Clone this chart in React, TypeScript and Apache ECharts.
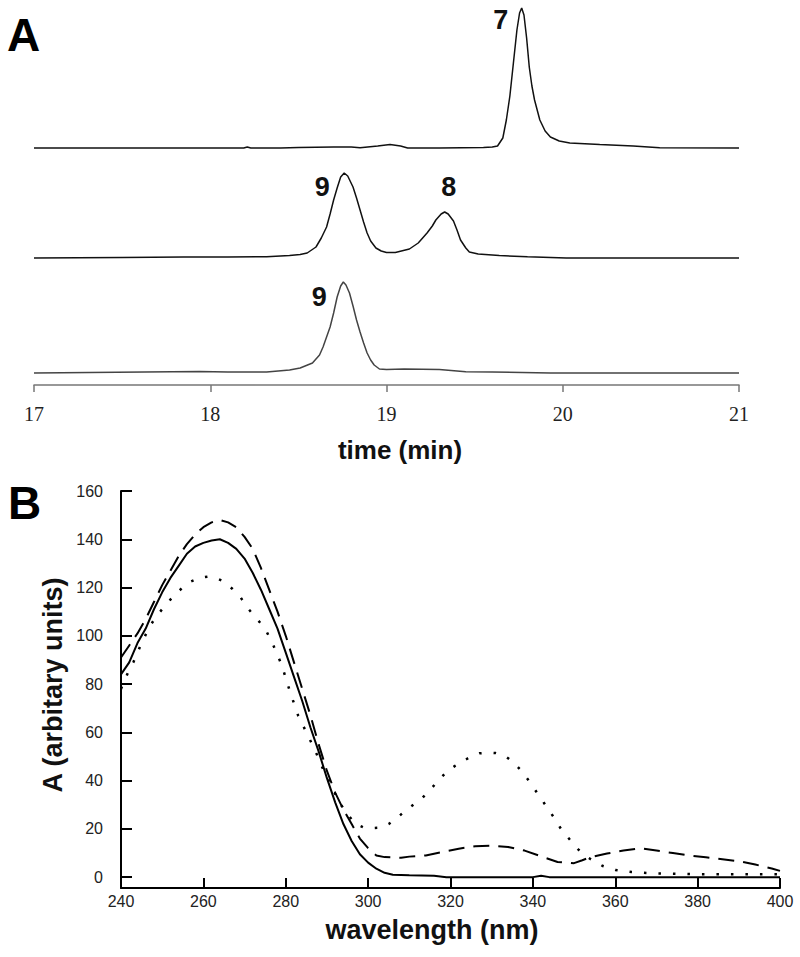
import React, { useEffect, useRef } from "react";
import * as echarts from "echarts";

// ---------- Panel A: chromatograms (time in min, relative signal) ----------
const timeTicks = [17, 18, 19, 20, 21];
const traceTop: number[][] = [
  [17.0, 0], [17.5, 0], [18.0, 0], [18.19, 0], [18.21, 1], [18.23, 0], [18.4, 0], [18.5, 0.5],
  [18.7, 1], [18.8, 1], [18.85, 0.3], [18.95, 2], [19.02, 3.5], [19.08, 2], [19.12, 0], [19.3, 0],
  [19.55, 0.5], [19.6, 1], [19.63, 2], [19.66, 10], [19.68, 28], [19.7, 52], [19.72, 85], [19.74, 118],
  [19.755, 135], [19.767, 140], [19.78, 133], [19.795, 110], [19.81, 81], [19.825, 62], [19.84, 48],
  [19.87, 28], [19.9, 17], [19.93, 11], [19.98, 7], [20.04, 5], [20.21, 3.5], [20.4, 2], [20.55, 0.3], [21.0, 0],
];
const traceMid: number[][] = [
  [17.0, 0], [17.5, 0.5], [17.85, 1], [18.1, 1], [18.32, 1.2], [18.45, 2.5], [18.51, 3.5], [18.55, 5],
  [18.6, 11], [18.63, 20], [18.66, 31], [18.68, 44], [18.7, 58], [18.72, 70], [18.74, 81], [18.76, 85],
  [18.78, 82], [18.81, 71], [18.83, 60], [18.85, 48], [18.87, 36], [18.89, 25], [18.91, 17], [18.94, 10],
  [18.97, 7], [19.0, 5.5], [19.05, 5.5], [19.13, 9], [19.18, 15], [19.23, 25], [19.26, 32], [19.28, 38],
  [19.31, 44], [19.33, 46], [19.35, 44], [19.38, 37], [19.4, 28], [19.42, 18], [19.45, 10], [19.47, 6],
  [19.52, 4], [19.64, 2.5], [19.8, 1.2], [20.02, 0], [21.0, 0],
];
const traceBottom: number[][] = [
  [17.0, 0], [17.47, 0.7], [17.94, 1.5], [18.1, 1], [18.32, 1], [18.45, 3], [18.51, 5], [18.58, 10],
  [18.62, 18], [18.64, 26], [18.68, 46], [18.7, 60], [18.72, 76], [18.74, 87], [18.755, 91], [18.77, 88],
  [18.79, 80], [18.81, 67], [18.83, 53], [18.85, 41], [18.87, 30], [18.89, 20], [18.91, 13], [18.93, 8],
  [18.96, 4], [19.0, 3.5], [19.1, 4], [19.3, 3.5], [19.45, 1.3], [19.6, 1], [19.93, 0], [21.0, 0],
];
const traceOffsets = [237, 127, 12];
const peakLabels = ["7", "9", "8", "9"];
const peakTimes = [19.767, 18.76, 19.33, 18.755];

// ---------- Panel B: UV spectra (wavelength nm, absorbance) ----------
const wlTicks = [240, 260, 280, 300, 320, 340, 360, 380, 400];
const absTicks = [0, 20, 40, 60, 80, 100, 120, 140, 160];
const spectrumSolid: number[][] = [
  [240, 84], [242, 89], [244, 97], [246, 103], [248, 111], [250, 118], [252, 124], [254, 129], [256, 134],
  [258, 137], [260, 138.5], [262, 139.5], [264, 140], [266, 138.5], [268, 136], [270, 132], [272, 126],
  [274, 119], [276, 111], [278, 103], [280, 93], [282, 83], [284, 73], [286, 62], [288, 52], [290, 41],
  [292, 31], [294, 22], [296, 15], [298, 9.5], [300, 6], [302, 3.5], [304, 1.8], [306, 1], [310, 0.8],
  [316, 0.6], [319, 0], [340, 0], [342, 0.6], [344, 0], [360, 0], [400, 0],
];
const spectrumDashed: number[][] = [
  [240, 91], [242, 96], [244, 101], [246, 107], [248, 114], [250, 121], [252, 127], [254, 133], [256, 138],
  [258, 142], [260, 145], [262, 147], [264, 148], [266, 147], [268, 145], [270, 141], [272, 136], [274, 128],
  [276, 119], [278, 110], [280, 100], [282, 89], [284, 78], [286, 67], [288, 55], [290, 44], [292, 35],
  [294, 28], [296, 22], [298, 16], [300, 12], [302, 9], [304, 8.3], [308, 8], [310, 8.5], [314, 9],
  [318, 10.4], [322, 11.8], [326, 12.8], [330, 13], [334, 12.5], [338, 11], [342, 8.6], [346, 6.3],
  [350, 5.8], [352, 7], [354, 8.3], [358, 9.8], [362, 11], [366, 12], [370, 11], [374, 10], [378, 9],
  [382, 8.2], [386, 7.4], [390, 6.6], [394, 5.2], [398, 3.6], [400, 2.6],
];
const spectrumDotted: number[][] = [
  [240, 78], [241.5, 84], [243, 89], [245, 97], [247, 104], [249, 109], [251, 113], [253, 117], [255, 120],
  [257, 122.5], [259, 124], [261, 124.5], [263, 124], [265, 122.5], [267, 119.5], [269, 116], [271, 111],
  [273, 107], [275, 103], [277, 96], [279, 88], [281, 77], [283, 67], [285, 60], [287, 53], [289, 45],
  [291, 38], [293, 31], [295, 26], [297, 22], [299, 20.5], [301, 20.3], [303, 20.5], [305, 22], [307, 24.5],
  [309, 27.5], [311, 30], [313, 32.5], [315, 36], [317, 40], [319, 43.5], [321, 46], [323, 48], [325, 50],
  [327, 51.3], [329, 51.6], [331, 51.4], [333, 50.5], [335, 48], [337, 44.5], [339, 40], [341, 35],
  [343, 30], [345, 25], [347, 19.5], [349, 15.5], [351, 11.5], [353, 8.5], [355, 6.5], [357, 4.6],
  [360, 3], [364, 2.1], [370, 1.5], [380, 1.2], [400, 1.2],
];

const SANS = "Liberation Sans, Arial, Helvetica, sans-serif";
const SERIF = "Liberation Serif, Times New Roman, serif";

function shift(trace: number[][], off: number) {
  return trace.map(([t, a]) => [t, a + off]);
}
function peakAmp(trace: number[][], t: number) {
  const p = trace.find((d) => d[0] === t);
  return p ? p[1] : 0;
}

export default function App() {
  const ref = useRef<HTMLDivElement>(null);
  useEffect(() => {
    document.body.style.margin = "0";
    if (!ref.current) return;
    const chart = echarts.init(ref.current, undefined, { renderer: "svg" });
    const traces = [traceTop, traceMid, traceBottom];
    const traceColors = ["#111", "#111", "#444"];
    const labelOffsets = [[-21, 12], [-22, 14], [4, -25], [-24, 15]];
    const labelTrace = [0, 1, 1, 2];
    const labelStyle = { fontFamily: SANS, fontWeight: "bold" as const, fontSize: 27, color: "#111" };
    const titleStyle = { fontFamily: SANS, fontWeight: "bold", fill: "#111", align: "center", verticalAlign: "middle" };

    const seriesA = traces.map((tr, i) => {
      const marks = peakLabels
        .map((lab, k) => ({ lab, k }))
        .filter(({ k }) => labelTrace[k] === i)
        .map(({ lab, k }) => ({
          coord: [peakTimes[k], peakAmp(tr, peakTimes[k]) + traceOffsets[i]],
          label: { show: true, formatter: lab, offset: labelOffsets[k], ...labelStyle },
        }));
      return {
        type: "line",
        xAxisIndex: 0,
        yAxisIndex: 0,
        data: shift(tr, traceOffsets[i]),
        showSymbol: false,
        lineStyle: { color: traceColors[i], width: 1.5 },
        markPoint: { symbol: "circle", symbolSize: 0, silent: true, data: marks },
      };
    });

    const option: any = {
      animation: false,
      backgroundColor: "#fff",
      grid: [
        { left: 34, width: 705, top: 5, height: 380 },
        { left: 121, width: 659, top: 491, height: 397 },
      ],
      xAxis: [
        {
          type: "value", gridIndex: 0, min: timeTicks[0], max: timeTicks[timeTicks.length - 1], interval: 1,
          axisLine: { onZero: false, lineStyle: { color: "#777", width: 1.5 } },
          axisTick: { length: 7, lineStyle: { color: "#777", width: 1.5 } },
          axisLabel: { fontFamily: SERIF, fontSize: 20, color: "#222", margin: 19 },
          splitLine: { show: false },
        },
        {
          type: "value", gridIndex: 1, min: wlTicks[0], max: wlTicks[wlTicks.length - 1], interval: 20,
          axisLine: { onZero: false, lineStyle: { color: "#000", width: 2 } },
          axisTick: { inside: true, length: 10, lineStyle: { color: "#000", width: 2 } },
          axisLabel: { fontFamily: SANS, fontSize: 16, color: "#222", margin: 5 },
          splitLine: { show: false },
        },
      ],
      yAxis: [
        { type: "value", gridIndex: 0, min: 0, max: 380, show: false },
        {
          type: "value", gridIndex: 1, min: -4.5, max: absTicks[absTicks.length - 1],
          axisLine: { show: true, onZero: false, lineStyle: { color: "#000", width: 2 } },
          axisTick: { show: true, inside: true, length: 11, lineStyle: { color: "#000", width: 2 }, customValues: absTicks },
          axisLabel: { fontFamily: SANS, fontSize: 16, color: "#222", margin: 18, customValues: absTicks },
          splitLine: { show: false },
        },
      ],
      series: [
        ...seriesA,
        {
          type: "line", xAxisIndex: 1, yAxisIndex: 1, data: spectrumSolid, showSymbol: false,
          lineStyle: { color: "#000", width: 2 },
        },
        {
          type: "line", xAxisIndex: 1, yAxisIndex: 1, data: spectrumDashed, showSymbol: false,
          lineStyle: { color: "#000", width: 2, type: [16, 9] },
        },
        {
          type: "line", xAxisIndex: 1, yAxisIndex: 1, data: spectrumDotted, showSymbol: false,
          lineStyle: { color: "#000", width: 2.5, type: [2.5, 12] },
        },
      ],
      graphic: [
        { type: "text", left: 7, top: 12, style: { text: "A", fontFamily: SANS, fontWeight: "bold", fontSize: 46, fill: "#000" } },
        { type: "text", left: 8, top: 480, style: { text: "B", fontFamily: SANS, fontWeight: "bold", fontSize: 46, fill: "#000" } },
        { type: "text", x: 400, y: 450, style: { text: "time (min)", fontSize: 26, ...titleStyle } },
        { type: "text", x: 432, y: 930, style: { text: "wavelength (nm)", fontSize: 27, ...titleStyle } },
        { type: "text", x: 53, y: 685, rotation: Math.PI / 2, style: { text: "A (arbitary units)", fontSize: 27, ...titleStyle } },
      ],
    };
    chart.setOption(option);
    return () => chart.dispose();
  }, []);
  return <div ref={ref} style={{ width: 800, height: 957 }} />;
}
